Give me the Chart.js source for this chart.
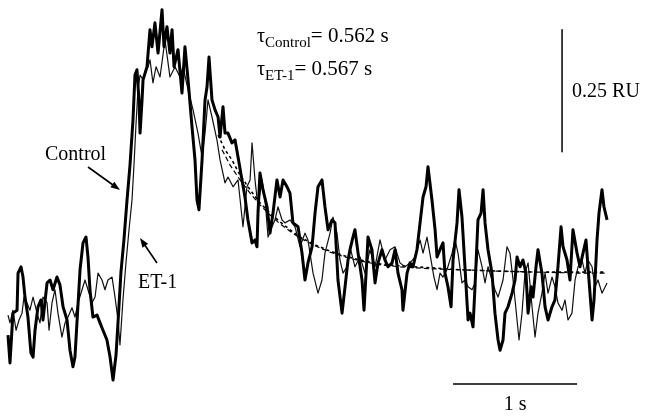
<!DOCTYPE html>
<html>
<head>
<meta charset="utf-8">
<script src="https://cdn.jsdelivr.net/npm/chart.js@4/dist/chart.umd.min.js"></script>
<style>
  html, body { margin: 0; padding: 0; background: #fff; }
  #wrap { width: 646px; height: 416px; position: relative; }
</style>
</head>
<body>
<div id="wrap"><canvas id="myChart"></canvas></div>
<script>
'use strict';

//========== Data (time in s, response in RU) ==========
let controlTime = [0.000, 0.016, 0.040, 0.073, 0.081, 0.105, 0.121, 0.137, 0.161, 0.185, 0.202, 0.218, 0.242, 0.266, 0.282, 0.315, 0.339, 0.363, 0.395, 0.419, 0.444, 0.476, 0.500, 0.524, 0.540, 0.556, 0.581, 0.605, 0.629, 0.645, 0.661, 0.685, 0.718, 0.742, 0.766, 0.798, 0.823, 0.847, 0.871, 0.887, 0.911, 0.935, 0.960, 0.984, 1.008, 1.024, 1.040, 1.056, 1.065, 1.081, 1.089, 1.121, 1.145, 1.161, 1.185, 1.210, 1.242, 1.258, 1.282, 1.306, 1.323, 1.339, 1.371, 1.403, 1.427, 1.452, 1.484, 1.508, 1.524, 1.540, 1.565, 1.589, 1.605, 1.621, 1.645, 1.669, 1.694, 1.710, 1.734, 1.750, 1.774, 1.806, 1.831, 1.855, 1.887, 1.911, 1.935, 1.968, 1.992, 2.008, 2.016, 2.032, 2.056, 2.089, 2.113, 2.137, 2.169, 2.194, 2.218, 2.250, 2.274, 2.298, 2.339, 2.371, 2.395, 2.419, 2.452, 2.476, 2.500, 2.532, 2.556, 2.581, 2.613, 2.637, 2.661, 2.694, 2.718, 2.742, 2.758, 2.782, 2.798, 2.823, 2.855, 2.871, 2.895, 2.903, 2.935, 2.960, 2.984, 3.016, 3.040, 3.065, 3.097, 3.121, 3.145, 3.177, 3.185, 3.218, 3.242, 3.266, 3.298, 3.323, 3.347, 3.371, 3.387, 3.419, 3.444, 3.460, 3.484, 3.508, 3.524, 3.548, 3.573, 3.589, 3.621, 3.637, 3.661, 3.685, 3.710, 3.726, 3.750, 3.766, 3.790, 3.815, 3.831, 3.847, 3.871, 3.903, 3.927, 3.952, 3.968, 3.992, 4.008, 4.032, 4.065, 4.089, 4.105, 4.129, 4.153, 4.177, 4.194, 4.218, 4.234, 4.258, 4.274, 4.306, 4.331, 4.355, 4.387, 4.411, 4.435, 4.460, 4.476, 4.508, 4.532, 4.556, 4.589, 4.613, 4.637, 4.661, 4.677, 4.710, 4.726, 4.750, 4.766, 4.790, 4.806, 4.831];
let controlRU = [-0.072, -0.129, -0.027, -0.021, 0.055, 0.068, 0.047, 0.006, -0.035, -0.109, -0.117, -0.062, -0.014, 0.000, -0.041, 0.035, 0.041, 0.021, 0.047, 0.031, -0.014, -0.041, -0.103, -0.137, -0.117, -0.047, 0.062, 0.117, 0.129, 0.088, 0.021, -0.035, -0.031, -0.047, -0.062, -0.082, -0.117, -0.164, -0.113, -0.047, 0.057, 0.123, 0.205, 0.277, 0.369, 0.461, 0.472, 0.410, 0.342, 0.410, 0.451, 0.478, 0.554, 0.519, 0.568, 0.506, 0.595, 0.519, 0.560, 0.506, 0.554, 0.478, 0.513, 0.424, 0.519, 0.451, 0.355, 0.287, 0.205, 0.185, 0.287, 0.410, 0.437, 0.498, 0.410, 0.390, 0.375, 0.334, 0.396, 0.342, 0.342, 0.322, 0.328, 0.293, 0.246, 0.211, 0.164, 0.117, 0.123, 0.109, 0.178, 0.260, 0.226, 0.191, 0.137, 0.178, 0.246, 0.211, 0.246, 0.232, 0.219, 0.158, 0.150, 0.096, 0.041, 0.076, 0.109, 0.178, 0.232, 0.246, 0.191, 0.144, 0.164, 0.158, 0.041, -0.027, 0.027, 0.082, 0.103, 0.129, 0.144, 0.096, 0.041, -0.021, 0.088, 0.129, 0.103, 0.035, 0.076, 0.103, 0.082, 0.068, 0.076, 0.103, 0.055, 0.021, -0.021, 0.055, 0.076, 0.068, 0.103, 0.158, 0.211, 0.232, 0.273, 0.205, 0.144, 0.088, 0.103, 0.117, 0.055, 0.027, -0.014, 0.082, 0.158, 0.226, 0.170, 0.068, -0.041, -0.027, -0.055, 0.027, 0.164, 0.178, 0.226, 0.158, 0.103, 0.055, -0.027, -0.082, -0.103, -0.082, -0.027, -0.014, 0.014, 0.041, 0.088, 0.068, 0.082, 0.055, -0.027, 0.027, 0.006, 0.068, 0.103, 0.055, -0.014, -0.041, -0.014, 0.000, 0.068, 0.150, 0.109, 0.082, 0.041, 0.144, 0.096, 0.068, 0.096, 0.123, 0.068, -0.041, 0.000, 0.123, 0.178, 0.226, 0.191, 0.164];

let et1Time = [0.000, 0.016, 0.040, 0.065, 0.089, 0.113, 0.129, 0.153, 0.177, 0.202, 0.234, 0.258, 0.282, 0.315, 0.331, 0.355, 0.379, 0.403, 0.435, 0.460, 0.484, 0.516, 0.540, 0.565, 0.597, 0.621, 0.645, 0.677, 0.702, 0.726, 0.758, 0.782, 0.806, 0.839, 0.863, 0.887, 0.903, 0.927, 0.952, 0.976, 1.000, 1.016, 1.032, 1.048, 1.065, 1.089, 1.105, 1.129, 1.145, 1.169, 1.194, 1.226, 1.266, 1.306, 1.347, 1.387, 1.411, 1.452, 1.492, 1.532, 1.565, 1.589, 1.613, 1.645, 1.685, 1.710, 1.750, 1.774, 1.815, 1.855, 1.895, 1.927, 1.952, 1.968, 1.992, 2.016, 2.048, 2.073, 2.097, 2.129, 2.153, 2.177, 2.210, 2.234, 2.274, 2.315, 2.355, 2.395, 2.419, 2.460, 2.500, 2.532, 2.556, 2.597, 2.621, 2.653, 2.677, 2.702, 2.734, 2.758, 2.798, 2.839, 2.879, 2.919, 2.960, 3.000, 3.040, 3.081, 3.121, 3.161, 3.202, 3.242, 3.282, 3.323, 3.347, 3.379, 3.411, 3.435, 3.460, 3.484, 3.508, 3.540, 3.581, 3.605, 3.629, 3.661, 3.685, 3.710, 3.742, 3.766, 3.790, 3.823, 3.847, 3.871, 3.903, 3.927, 3.952, 3.992, 4.024, 4.048, 4.073, 4.105, 4.121, 4.145, 4.169, 4.194, 4.226, 4.250, 4.274, 4.306, 4.331, 4.355, 4.387, 4.411, 4.435, 4.468, 4.492, 4.516, 4.548, 4.573, 4.597, 4.629, 4.653, 4.677, 4.710, 4.734, 4.758, 4.790, 4.831];
let et1RU = [-0.031, -0.047, -0.021, -0.062, -0.041, -0.027, 0.006, -0.006, -0.021, 0.006, -0.027, -0.047, 0.006, -0.006, -0.062, -0.006, 0.021, -0.027, -0.076, -0.047, -0.035, -0.016, -0.035, -0.006, 0.021, 0.041, 0.021, -0.006, 0.006, 0.055, 0.041, 0.021, 0.041, 0.047, 0.006, -0.041, -0.092, 0.000, 0.078, 0.144, 0.205, 0.277, 0.359, 0.431, 0.461, 0.451, 0.465, 0.478, 0.492, 0.445, 0.478, 0.457, 0.533, 0.457, 0.478, 0.457, 0.478, 0.431, 0.390, 0.342, 0.293, 0.342, 0.410, 0.375, 0.328, 0.287, 0.240, 0.252, 0.232, 0.246, 0.150, 0.232, 0.246, 0.322, 0.246, 0.191, 0.246, 0.205, 0.129, 0.150, 0.164, 0.191, 0.164, 0.158, 0.164, 0.150, 0.109, 0.137, 0.123, 0.055, 0.014, 0.041, 0.096, 0.137, 0.170, 0.137, 0.082, 0.055, 0.068, 0.109, 0.068, 0.088, 0.055, 0.103, 0.068, 0.123, 0.082, 0.103, 0.109, 0.076, 0.068, 0.076, 0.088, 0.123, 0.096, 0.129, 0.082, 0.047, 0.021, 0.055, 0.047, 0.062, 0.096, 0.123, 0.096, 0.035, 0.041, 0.027, 0.021, 0.035, 0.103, 0.068, 0.035, 0.068, 0.041, 0.021, 0.006, 0.041, 0.109, 0.096, 0.041, -0.041, -0.082, -0.027, 0.055, 0.076, -0.014, -0.076, -0.027, 0.014, 0.055, 0.014, 0.047, 0.027, -0.006, -0.021, 0.000, -0.041, -0.027, 0.041, 0.068, 0.082, 0.055, 0.082, 0.068, 0.027, 0.041, 0.014, 0.035];

// single exponential fits (dashed)
let controlFitTime = [1.694, 1.750, 1.806, 1.871, 1.952, 2.032, 2.113, 2.194, 2.274, 2.355, 2.476, 2.597, 2.718, 2.839, 3.000, 3.161, 3.403, 3.645, 3.968, 4.290, 4.613, 4.815];
let controlFitRU = [0.338, 0.308, 0.287, 0.256, 0.226, 0.199, 0.178, 0.160, 0.144, 0.129, 0.113, 0.100, 0.090, 0.082, 0.074, 0.070, 0.066, 0.062, 0.059, 0.057, 0.057, 0.057];
let et1FitTime = [1.726, 1.790, 1.871, 1.952, 2.032, 2.113, 2.194, 2.274, 2.355, 2.476, 2.597, 2.718, 2.839, 3.000, 3.161, 3.403, 3.645, 3.968, 4.290, 4.613, 4.815];
let et1FitRU = [0.308, 0.277, 0.246, 0.219, 0.195, 0.174, 0.156, 0.141, 0.127, 0.111, 0.098, 0.088, 0.080, 0.072, 0.068, 0.064, 0.062, 0.059, 0.057, 0.055, 0.055];

// scale bars: 0.25 RU vertical, 1 s horizontal
let ruBarTime = [4.468, 4.468];
let ruBarRU = [0.554, 0.304];
let secBarTime = [3.589, 4.589];
let secBarRU = [-0.172, -0.172];

let tauControl = '0.562 s';
let tauEt1 = '0.567 s';

//========== Helpers ==========
function toPoints(xs, ys) {
  let pts = [];
  for (let i = 0; i < xs.length; i++) {
    pts.push({ x: xs[i], y: ys[i] });
  }
  return pts;
}

function drawArrow(c, x1, y1, x2, y2) {
  let ang = Math.atan2(y2 - y1, x2 - x1);
  let len = 10;
  c.beginPath();
  c.moveTo(x1, y1);
  c.lineTo(x2 - Math.cos(ang) * 6, y2 - Math.sin(ang) * 6);
  c.lineWidth = 1.6;
  c.stroke();
  c.beginPath();
  c.moveTo(x2, y2);
  c.lineTo(x2 - len * Math.cos(ang - 0.35), y2 - len * Math.sin(ang - 0.35));
  c.lineTo(x2 - len * Math.cos(ang + 0.35), y2 - len * Math.sin(ang + 0.35));
  c.closePath();
  c.fill();
}

function drawTau(c, x, y, sub, rest) {
  c.font = '20px "Liberation Serif"';
  c.fillText('\u03c4', x, y);
  x += c.measureText('\u03c4').width;
  c.font = '15px "Liberation Serif"';
  c.fillText(sub, x, y + 5);
  x += c.measureText(sub).width;
  c.font = '21px "Liberation Serif"';
  c.fillText('= ' + rest, x, y);
}

// text and arrows on top of the traces
let notesPlugin = {
  id: 'notes',
  afterDraw(chart) {
    let c = chart.ctx;
    let xs = chart.scales.x;
    let ys = chart.scales.y;
    c.save();
    c.fillStyle = '#000';
    c.strokeStyle = '#000';
    c.textBaseline = 'alphabetic';

    drawTau(c, 257, 42, 'Control', tauControl);
    drawTau(c, 257, 75, 'ET-1', tauEt1);

    c.font = '20px "Liberation Serif"';
    c.fillText('Control', 45, 160);
    c.fillText('ET-1', 138, 288);
    drawArrow(c, 88, 167, 120, 190);
    drawArrow(c, 157, 263, 140, 238);

    // scale bar labels
    let barX = xs.getPixelForValue(ruBarTime[0]);
    let barMid = (ys.getPixelForValue(ruBarRU[0]) + ys.getPixelForValue(ruBarRU[1])) / 2;
    c.fillText('0.25 RU', barX + 10, barMid + 6);
    let secMid = (xs.getPixelForValue(secBarTime[0]) + xs.getPixelForValue(secBarTime[1])) / 2;
    c.textAlign = 'center';
    c.fillText('1 s', secMid, ys.getPixelForValue(secBarRU[0]) + 26);
    c.restore();
  }
};

//========== Chart ==========
let ctx = document.getElementById('myChart').getContext('2d');

let myChartObj = {
  type: 'line',
  data: {
    datasets: [{
      label: 'Control',
      data: toPoints(controlTime, controlRU),
      borderColor: '#000',
      borderWidth: 3,
      pointRadius: 0
    },
    {
      label: 'ET-1',
      data: toPoints(et1Time, et1RU),
      borderColor: '#111',
      borderWidth: 1.2,
      pointRadius: 0
    },
    {
      label: 'Control fit',
      data: toPoints(controlFitTime, controlFitRU),
      borderColor: '#000',
      borderWidth: 1.6,
      borderDash: [3, 3],
      pointRadius: 0
    },
    {
      label: 'ET-1 fit',
      data: toPoints(et1FitTime, et1FitRU),
      borderColor: '#000',
      borderWidth: 1.2,
      borderDash: [5, 3],
      pointRadius: 0
    },
    {
      label: '0.25 RU',
      data: toPoints(ruBarTime, ruBarRU),
      borderColor: '#000',
      borderWidth: 1.5,
      pointRadius: 0
    },
    {
      label: '1 s',
      data: toPoints(secBarTime, secBarRU),
      borderColor: '#000',
      borderWidth: 1.5,
      pointRadius: 0
    }]
  },
  options: {
    responsive: true,
    maintainAspectRatio: false,
    animation: false,
    layout: { padding: 0 },
    elements: { line: { tension: 0, borderCapStyle: 'butt', borderJoinStyle: 'round' } },
    plugins: {
      legend: { display: false },
      tooltip: { enabled: false }
    },
    scales: {
      x: { type: 'linear', display: false, min: -0.0645, max: 5.145 },
      y: { type: 'linear', display: false, min: -0.2378, max: 0.6148 }
    }
  },
  plugins: [notesPlugin]
};

let myChart = new Chart(ctx, myChartObj);
</script>
</body>
</html>
